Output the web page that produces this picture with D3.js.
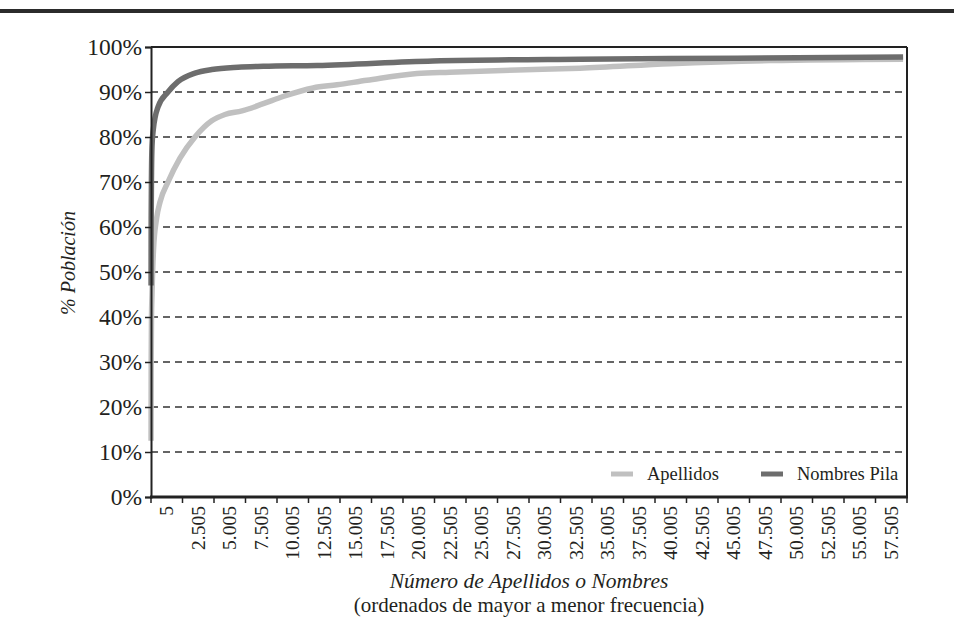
<!DOCTYPE html>
<html>
<head>
<meta charset="utf-8">
<script src="https://cdn.jsdelivr.net/npm/d3@7"></script>
<style>
  body { margin: 0; background: #fff; }
  svg text { font-family: "Liberation Serif", "Times New Roman", serif; fill: #231f20; }
</style>
</head>
<body>
<svg id="chart" width="954" height="644"></svg>
<script>
// x tick labels (category groups of 2.500 names)
const xLabels = ["5", "2.505", "5.005", "7.505", "10.005", "12.505", "15.005", "17.505",
  "20.005", "22.505", "25.005", "27.505", "30.005", "32.505", "35.005", "37.505",
  "40.005", "42.505", "45.005", "47.505", "50.005", "52.505", "55.005", "57.505"];
const yTicks = [0, 10, 20, 30, 40, 50, 60, 70, 80, 90, 100];

// Apellidos: number of surnames -> % population
const apellidosN = [5, 15, 40, 80, 200, 450, 710, 1350, 2300, 3490, 4820, 5870, 7220, 8910,
  10480, 12860, 14760, 17140, 21110, 23730, 29050, 34050, 41190, 49130, 59690];
const apellidosPct = [12.5, 30, 40, 45, 55, 62, 65.5, 70, 75.3, 80, 83.6, 85, 85.8, 87.4,
  89, 90.9, 91.6, 92.6, 94.1, 94.4, 94.9, 95.3, 96.3, 97, 97.3];

// Nombres Pila: number of first names -> % population
const nombresN = [5, 15, 40, 80, 180, 560, 1350, 2140, 3490, 4830, 6910, 8910, 13180, 22380,
  34050, 46510, 59690];
const nombresPct = [47, 62, 72, 78, 81.6, 86.7, 90, 92.3, 94.2, 95, 95.5, 95.7, 95.9, 96.9,
  97.3, 97.5, 97.8];

const svg = d3.select("#chart");
const plotL = 151, plotR = 907, plotT = 47, plotB = 497;

// thick rule at top of the page
svg.append("line")
  .attr("x1", 0).attr("x2", 954).attr("y1", 11).attr("y2", 11)
  .attr("stroke", "#2b2b2b").attr("stroke-width", 4);

const xBand = d3.scaleBand().domain(xLabels).range([plotL, plotR]);
const x = d3.scaleLinear().domain([0, 60000]).range([plotL, plotR]);
const y = d3.scaleLinear().domain([0, 100]).range([plotB, plotT]);

// dashed gridlines
svg.append("g")
  .selectAll("line")
  .data(yTicks.filter(d => d > 0 && d < 100))
  .join("line")
  .attr("x1", plotL).attr("x2", plotR)
  .attr("y1", d => y(d)).attr("y2", d => y(d))
  .attr("stroke", "#333").attr("stroke-width", 1.3)
  .attr("stroke-dasharray", "7,5");

// frame top / right
svg.append("line").attr("x1", plotL).attr("x2", plotR).attr("y1", plotT).attr("y2", plotT)
  .attr("stroke", "#222").attr("stroke-width", 2);
svg.append("line").attr("x1", plotR).attr("x2", plotR).attr("y1", plotT).attr("y2", plotB)
  .attr("stroke", "#222").attr("stroke-width", 2);

// lines
const line = d3.line()
  .x(d => x(d[0]))
  .y(d => y(d[1]))
  .curve(d3.curveMonotoneX);

svg.append("path")
  .datum(apellidosN.map((n, i) => [n, apellidosPct[i]]))
  .attr("d", line)
  .attr("fill", "none")
  .attr("stroke", "#c0c0c0")
  .attr("stroke-width", 5.5);

svg.append("path")
  .datum(nombresN.map((n, i) => [n, nombresPct[i]]))
  .attr("d", line)
  .attr("fill", "none")
  .attr("stroke", "#6d6d6d")
  .attr("stroke-width", 5.5);

// y axis
const yAxis = svg.append("g")
  .attr("transform", `translate(${plotL},0)`)
  .call(d3.axisLeft(y).tickValues(yTicks).tickSize(6).tickPadding(3).tickFormat(d => d + "%"));
yAxis.select(".domain").attr("stroke", "#222").attr("stroke-width", 2);
yAxis.selectAll(".tick line").attr("stroke", "#222").attr("stroke-width", 1.5);
yAxis.selectAll(".tick text")
  .style("font-family", "Liberation Serif")
  .style("font-size", "23.5px")
  .attr("fill", "#231f20");

// x axis: ticks between category groups, labels centred in each group
const xAxisG = svg.append("g").attr("transform", `translate(0,${plotB})`);
xAxisG.append("line")
  .attr("x1", plotL - 1).attr("x2", plotR + 1)
  .attr("stroke", "#222").attr("stroke-width", 3);
xAxisG.selectAll(".tk")
  .data(xLabels.concat(["end"]))
  .join("line")
  .attr("class", "tk")
  .attr("x1", d => d === "end" ? plotR : xBand(d))
  .attr("x2", d => d === "end" ? plotR : xBand(d))
  .attr("y1", 0).attr("y2", 6)
  .attr("stroke", "#222").attr("stroke-width", 1.5);
xAxisG.selectAll(".lbl")
  .data(xLabels)
  .join("text")
  .attr("class", "lbl")
  .attr("transform", d => `translate(${xBand(d) + xBand.bandwidth() / 2 + 6.5},9) rotate(-90)`)
  .attr("text-anchor", "end")
  .style("font-size", "19.5px")
  .text(d => d);

// axis titles
svg.append("text")
  .attr("transform", "translate(75,263) rotate(-90)")
  .attr("text-anchor", "middle")
  .style("font-size", "20px")
  .style("font-style", "italic")
  .text("% Población");

svg.append("text")
  .attr("x", (plotL + plotR) / 2).attr("y", 588)
  .attr("text-anchor", "middle")
  .style("font-size", "21.5px")
  .style("font-style", "italic")
  .text("Número de Apellidos o Nombres");

svg.append("text")
  .attr("x", (plotL + plotR) / 2).attr("y", 612)
  .attr("text-anchor", "middle")
  .style("font-size", "21px")
  .text("(ordenados de mayor a menor frecuencia)");

// legend
const legend = [
  { name: "Apellidos", color: "#c0c0c0", x: 611 },
  { name: "Nombres Pila", color: "#6d6d6d", x: 761 }
];
const lg = svg.append("g").selectAll("g").data(legend).join("g")
  .attr("transform", d => `translate(${d.x},474)`);
lg.append("line").attr("x1", 0).attr("x2", 22)
  .attr("stroke", d => d.color).attr("stroke-width", 5);
lg.append("text").attr("x", 36).attr("y", 6)
  .style("font-size", "18.5px")
  .text(d => d.name);
</script>
</body>
</html>
